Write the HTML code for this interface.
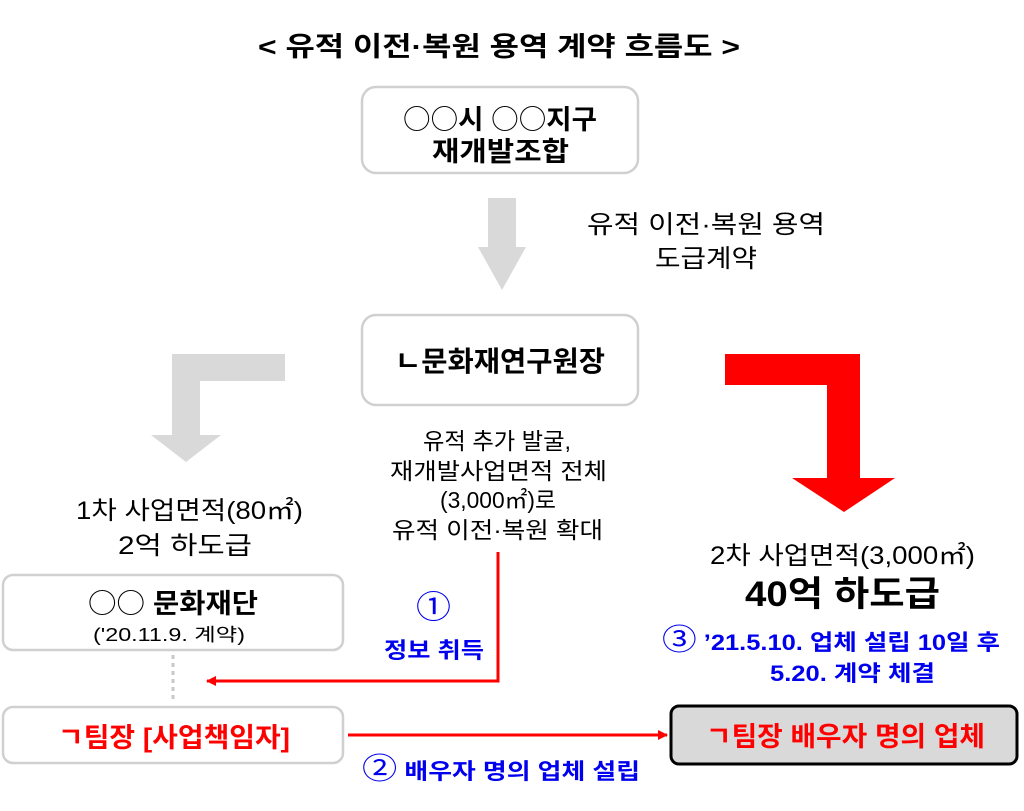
<!DOCTYPE html>
<html><head><meta charset="utf-8"><style>
html,body{margin:0;padding:0;background:#fff;}
svg text{font-family:"Liberation Sans","Noto Sans CJK KR",sans-serif;}
</style></head><body>
<svg width="1024" height="806" viewBox="0 0 1024 806" xmlns="http://www.w3.org/2000/svg">
<defs>
<marker id="ar" markerWidth="10" markerHeight="10" refX="9" refY="5" orient="auto" markerUnits="userSpaceOnUse">
<path d="M0,0 L10,5 L0,10 z" fill="#f00"/></marker>
</defs>
<g lengthAdjust="spacingAndGlyphs">
<text x="258" y="56" font-size="27" font-weight="bold" textLength="482" lengthAdjust="spacingAndGlyphs">&lt; 유적 이전·복원 용역 계약 흐름도 &gt;</text>

<rect x="362" y="87" width="276" height="86" rx="14" fill="#fff" stroke="#d0d0d0" stroke-width="2.5"/>
<text x="403" y="129" font-size="27" font-weight="bold" textLength="194" lengthAdjust="spacingAndGlyphs"><tspan font-family="Noto Sans CJK KR" font-weight="normal">○○</tspan>시 <tspan font-family="Noto Sans CJK KR" font-weight="normal">○○</tspan>지구</text>
<text x="432" y="161" font-size="27" font-weight="bold" textLength="137" lengthAdjust="spacingAndGlyphs">재개발조합</text>

<polygon points="488,198 516,198 516,247 526,247 502,290 478,247 488,247" fill="#d9d9d9"/>
<text x="587" y="233" font-size="25" textLength="238" lengthAdjust="spacingAndGlyphs">유적 이전·복원 용역</text>
<text x="655" y="267" font-size="25" textLength="102" lengthAdjust="spacingAndGlyphs">도급계약</text>

<rect x="362" y="315" width="276" height="90" rx="14" fill="#fff" stroke="#d0d0d0" stroke-width="2.5"/>
<text x="395" y="371" font-size="28" font-weight="bold" textLength="210" lengthAdjust="spacingAndGlyphs">ㄴ문화재연구원장</text>

<polygon points="172,354 285,354 285,381 200,381 200,435 221,435 186,462 151,435 172,435" fill="#d9d9d9"/>
<polygon points="725,354 860,354 860,478 895,478 844,512 792,478 827,478 827,385 725,385" fill="#ff0000"/>

<g font-size="23">
<text x="423" y="449" textLength="148" lengthAdjust="spacingAndGlyphs">유적 추가 발굴,</text>
<text x="390" y="479" textLength="217" lengthAdjust="spacingAndGlyphs">재개발사업면적 전체</text>
<text x="440" y="508" textLength="116" lengthAdjust="spacingAndGlyphs">(3,000㎡)로</text>
<text x="392" y="538" textLength="211" lengthAdjust="spacingAndGlyphs">유적 이전·복원 확대</text>
</g>
<text x="76" y="519" font-size="25" textLength="227" lengthAdjust="spacingAndGlyphs">1차 사업면적(80㎡)</text>
<text x="118" y="554" font-size="25" textLength="134" lengthAdjust="spacingAndGlyphs">2억 하도급</text>
<text x="710" y="564" font-size="25" textLength="265" lengthAdjust="spacingAndGlyphs">2차 사업면적(3,000㎡)</text>
<text x="745" y="606" font-size="35" font-weight="bold" textLength="195" lengthAdjust="spacingAndGlyphs">40억 하도급</text>

<rect x="3" y="575" width="340" height="75" rx="10" fill="#fff" stroke="#d0d0d0" stroke-width="2.5"/>
<text x="88" y="613" font-size="27" font-weight="bold" textLength="170" lengthAdjust="spacingAndGlyphs"><tspan font-family="Noto Sans CJK KR" font-weight="normal">○○</tspan> 문화재단</text>
<text x="93" y="641" font-size="18" textLength="152" lengthAdjust="spacingAndGlyphs">('20.11.9. 계약)</text>
<line x1="173" y1="655" x2="173" y2="702" stroke="#c8c8c8" stroke-width="3" stroke-dasharray="4,4"/>

<rect x="3" y="707" width="340" height="56" rx="10" fill="#fff" stroke="#d0d0d0" stroke-width="2.5"/>
<text x="58" y="747" font-size="27" font-weight="bold" fill="#f00" textLength="232" lengthAdjust="spacingAndGlyphs">ㄱ팀장 [사업책임자]</text>

<polyline points="498,552 498,681 207,681" fill="none" stroke="#f00" stroke-width="3" marker-end="url(#ar)"/>
<text x="416" y="618" font-size="32" fill="#0000ee" font-family="Noto Sans CJK KR" textLength="35" lengthAdjust="spacingAndGlyphs">①</text>
<text x="384" y="658" font-size="22" font-weight="bold" fill="#0000ee" textLength="100" lengthAdjust="spacingAndGlyphs">정보 취득</text>

<line x1="348" y1="735" x2="667" y2="735" stroke="#f00" stroke-width="3" marker-end="url(#ar)"/>
<text x="362" y="779" font-size="22" font-weight="bold" fill="#0000ee" textLength="278" lengthAdjust="spacingAndGlyphs"><tspan font-size="30" font-weight="normal">②</tspan> 배우자 명의 업체 설립</text>

<text x="662" y="650" font-size="22" font-weight="bold" fill="#0000ee" textLength="338" lengthAdjust="spacingAndGlyphs"><tspan font-size="30" font-weight="normal">③</tspan> ’21.5.10. 업체 설립 10일 후</text>
<text x="770" y="681" font-size="22" font-weight="bold" fill="#0000ee" textLength="165" lengthAdjust="spacingAndGlyphs">5.20. 계약 체결</text>

<rect x="671" y="706" width="346" height="58" rx="8" fill="#d9d9d9" stroke="#000" stroke-width="3"/>
<text x="706" y="746" font-size="27" font-weight="bold" fill="#f00" textLength="279" lengthAdjust="spacingAndGlyphs">ㄱ팀장 배우자 명의 업체</text>
</g>
</svg>
</body></html>
